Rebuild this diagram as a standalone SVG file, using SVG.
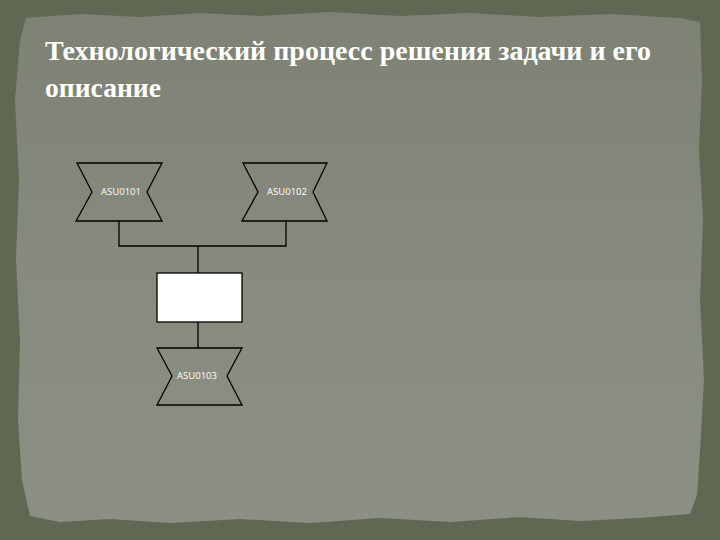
<svg xmlns="http://www.w3.org/2000/svg" width="720" height="540" viewBox="0 0 720 540">
<defs>
<linearGradient id="paper" x1="0" y1="0" x2="0" y2="1">
<stop offset="0" stop-color="#7d8275"/>
<stop offset="0.5" stop-color="#878a7e"/>
<stop offset="1" stop-color="#8c8f83"/>
</linearGradient>
<style>
.shape{fill:none;stroke:#000;stroke-width:1.3}
.box{fill:#fff;stroke:#000;stroke-width:1.3}
.lbl{font-family:"Open Sans","DejaVu Sans",sans-serif;font-size:9.5px;fill:#fff;text-anchor:middle}
.title{font-family:"Liberation Serif","DejaVu Serif",serif;font-weight:bold;font-size:27px;fill:#fff}
.conn{fill:none;stroke:#000;stroke-width:1.3}
</style>
</defs>
<rect width="720" height="540" fill="#5f6852"/>
<path d="M26,18 L80,14 L140,17 L200,13 L260,16 L330,12 L400,16 L470,13 L540,17 L610,14 L680,18 L700,22 L702,80 L699,150 L703,220 L700,300 L704,380 L700,450 L697,495 L690,514 L640,518 L580,521 L520,517 L450,522 L380,518 L310,523 L240,519 L170,523 L110,519 L60,522 L30,516 L22,480 L18,420 L20,340 L16,260 L19,180 L15,100 L20,40 Z" fill="url(#paper)"/>
<g id="title">
<text class="title" x="45" y="60" textLength="606" lengthAdjust="spacingAndGlyphs">Технологический процесс решения задачи и его</text>
<text class="title" x="45" y="97" textLength="116" lengthAdjust="spacingAndGlyphs">описание</text>
</g>
<g id="connectors">
<polyline class="conn" points="119,221 119,246 286,246 286,221"/>
<line class="conn" x1="198" y1="246" x2="198" y2="273"/>
<line class="conn" x1="198" y1="322" x2="198" y2="348"/>
</g>
<g id="asu0101">
<polygon class="shape" points="77,163 162,163 147,192 162,221 76,221 92,192"/>
<text class="lbl" x="121" y="195">ASU0101</text>
</g>
<g id="asu0102">
<polygon class="shape" points="243,163 327,163 313,192 327,221 242,221 258,192"/>
<text class="lbl" x="287" y="195">ASU0102</text>
</g>
<g id="process">
<rect class="box" x="157" y="273" width="85" height="49"/>
</g>
<g id="asu0103">
<polygon class="shape" points="157,348 242,348 227,376 242,405 157,405 172,376"/>
<text class="lbl" x="197" y="379">ASU0103</text>
</g>
</svg>
